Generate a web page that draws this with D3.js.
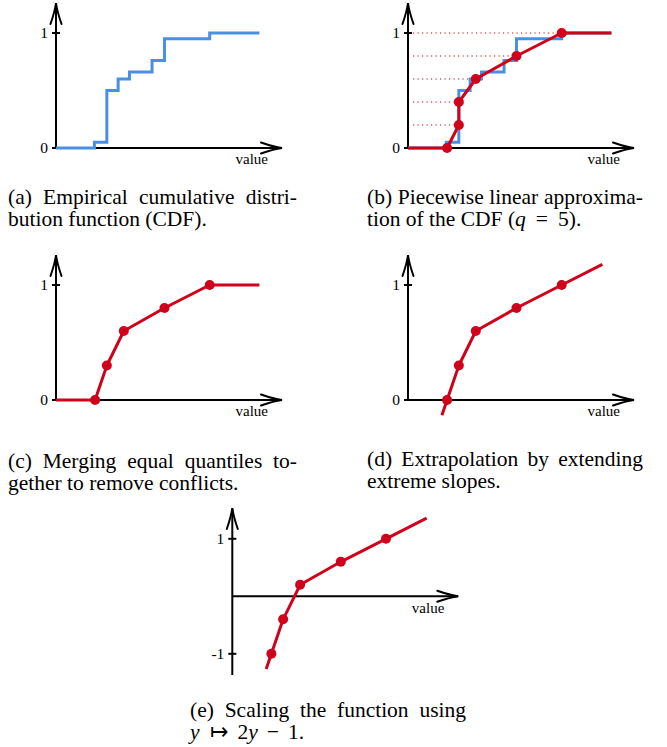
<!DOCTYPE html>
<html>
<head>
<meta charset="utf-8">
<script src="https://cdn.jsdelivr.net/npm/d3@7/dist/d3.min.js"></script>
<style>
  html, body { margin: 0; padding: 0; background: #fff; }
  svg { display: block; }
  text { font-family: "Liberation Serif", "Times New Roman", serif; fill: #000; }
</style>
</head>
<body>
<script>
// ---------------- DATA ----------------
// Empirical CDF (step function): x positions of steps and value after each step
const ecdfX = [0, 1.7, 2.25, 2.75, 3.25, 4.25, 4.8, 6.8, 9.0];
const ecdfY = [0, 0.05, 0.5, 0.6, 0.66, 0.76, 0.95, 1.0, 1.0];

// Piecewise linear approximation with q = 5 quantiles
const quantLevels = [0, 0.2, 0.4, 0.6, 0.8, 1.0];
const quantX      = [1.73, 2.25, 2.25, 3.0, 4.8, 6.8];

// After merging equal quantiles
const mergedX = [1.73, 2.25, 3.0, 4.8, 6.8];
const mergedY = [0, 0.3, 0.6, 0.8, 1.0];

// Flat tails (panels b, c) and extrapolation limits (panels d, e)
const tailStartX = 0;
const tailEndX = 9.0;
const extLowX = 1.5;
const extHighX = 8.6;

// Tick labels
const yTicksCDF = [0, 1];
const yTicksScaled = [-1, 1];
const xAxisLabel = "value";

// Captions (dx = extra math spacing)
const captionA = [[{t: "(a) Empirical cumulative distri-"}], [{t: "bution function (CDF)."}]];
const captionB = [[{t: "(b) Piecewise linear approxima-"}],
                  [{t: "tion of the CDF ("}, {t: "q", i: true}, {t: "=", dx: 10}, {t: "5).", dx: 10}]];
const captionC = [[{t: "(c) Merging equal quantiles to-"}], [{t: "gether to remove conflicts."}]];
const captionD = [[{t: "(d) Extrapolation by extending"}], [{t: "extreme slopes."}]];
const captionE = [[{t: "(e) Scaling the function using"}],
                  [{t: "y", i: true}, {t: "\u21A6", dx: 10}, {t: "2", dx: 10}, {t: "y", i: true},
                   {t: "\u2212", dx: 9}, {t: "1.", dx: 9}]];

// ---------------- DRAWING ----------------
const W = 667, H = 747;
const BLUE = "#4A90E2", RED = "#D0021B";
const svg = d3.select("body").append("svg").attr("width", W).attr("height", H);
svg.append("rect").attr("width", W).attr("height", H).attr("fill", "#fff");

const X_LEN = 226;      // px for x domain [0,10]
const Y_UNIT = 115;     // px per unit of CDF

function scales(ox, oy, yDomain) {
  const x = d3.scaleLinear().domain([0, 10]).range([ox, ox + X_LEN]);
  const y = d3.scaleLinear().domain(yDomain || [0, 1]).range(yDomain ? [oy + Y_UNIT / 2, oy - Y_UNIT / 2] : [oy, oy - Y_UNIT]);
  return {x, y};
}

function arrowUp(g, x, yTip) {
  g.append("path")
    .attr("d", `M${x - 5.5},${yTip + 21} Q${x - 1},${yTip + 8} ${x},${yTip} Q${x + 1},${yTip + 8} ${x + 5.5},${yTip + 21}`)
    .attr("fill", "none").attr("stroke", "#000").attr("stroke-width", 2).attr("stroke-linecap", "round");
}
function arrowRight(g, xTip, y) {
  g.append("path")
    .attr("d", `M${xTip - 21},${y - 5.5} Q${xTip - 8},${y - 1} ${xTip},${y} Q${xTip - 8},${y + 1} ${xTip - 21},${y + 5.5}`)
    .attr("fill", "none").attr("stroke", "#000").attr("stroke-width", 2).attr("stroke-linecap", "round");
}

function drawAxes(g, sc, ticks, yTop, yBottom, xAxisY, labelDy) {
  const x0 = sc.x(0);
  g.append("line").attr("x1", x0).attr("x2", x0).attr("y1", yBottom).attr("y2", yTop + 1)
    .attr("stroke", "#000").attr("stroke-width", 2);
  arrowUp(g, x0, yTop);
  g.append("line").attr("x1", x0).attr("x2", x0 + X_LEN - 1).attr("y1", xAxisY).attr("y2", xAxisY)
    .attr("stroke", "#000").attr("stroke-width", 2);
  arrowRight(g, x0 + X_LEN, xAxisY);
  ticks.forEach(t => {
    g.append("line").attr("x1", x0 - 4).attr("x2", x0 + 4).attr("y1", sc.y(t)).attr("y2", sc.y(t))
      .attr("stroke", "#000").attr("stroke-width", 2);
    g.append("text").attr("x", x0 - 8).attr("y", sc.y(t) + 5)
      .attr("text-anchor", "end").attr("font-size", 15.5).text(t);
  });
  g.append("text").attr("x", x0 + 212).attr("y", xAxisY + 16 + (labelDy || 0))
    .attr("text-anchor", "end").attr("font-size", 15).text(xAxisLabel);
}

const lineGen = (sc) => d3.line().x(d => sc.x(d[0])).y(d => sc.y(d[1]));

function drawRed(g, sc, pts, dots) {
  g.append("path").attr("d", lineGen(sc)(pts)).attr("fill", "none")
    .attr("stroke", RED).attr("stroke-width", 3).attr("stroke-linejoin", "round");
  g.selectAll(null).data(dots).enter().append("circle")
    .attr("cx", d => sc.x(d[0])).attr("cy", d => sc.y(d[1])).attr("r", 5).attr("fill", RED);
}

function drawBlue(g, sc) {
  const pts = ecdfX.map((x, i) => [x, ecdfY[i]]);
  g.append("path").attr("d", d3.line().curve(d3.curveStepAfter).x(d => sc.x(d[0])).y(d => sc.y(d[1]))(pts))
    .attr("fill", "none").attr("stroke", BLUE).attr("stroke-width", 3);
}

const mergedPts = mergedX.map((x, i) => [x, mergedY[i]]);
function extrapolated() {
  const n = mergedPts.length;
  const s0 = (mergedPts[1][1] - mergedPts[0][1]) / (mergedPts[1][0] - mergedPts[0][0]);
  const s1 = (mergedPts[n - 1][1] - mergedPts[n - 2][1]) / (mergedPts[n - 1][0] - mergedPts[n - 2][0]);
  const lo = [extLowX, mergedPts[0][1] + s0 * (extLowX - mergedPts[0][0])];
  const hi = [extHighX, mergedPts[n - 1][1] + s1 * (extHighX - mergedPts[n - 1][0])];
  return [lo, ...mergedPts, hi];
}

// ---- Panel (a)
{
  const g = svg.append("g");
  const sc = scales(56, 148);
  drawAxes(g, sc, yTicksCDF, 3, 149, 148);
  drawBlue(g, sc);
}
// ---- Panel (b)
{
  const g = svg.append("g");
  const sc = scales(408, 148);
  drawAxes(g, sc, yTicksCDF, 3, 149, 148);
  const qp = quantX.map((x, i) => [x, quantLevels[i]]);
  qp.filter(d => d[1] > 0).forEach(d => {
    g.append("line").attr("x1", sc.x(0) + 5).attr("x2", sc.x(d[0])).attr("y1", sc.y(d[1])).attr("y2", sc.y(d[1]))
      .attr("stroke", RED).attr("stroke-width", 1.2).attr("stroke-dasharray", "1.2,3.3");
  });
  drawBlue(g, sc);
  drawRed(g, sc, [[tailStartX, 0], ...qp, [tailEndX, 1]], qp);
}
// ---- Panel (c)
{
  const g = svg.append("g");
  const sc = scales(56, 400);
  drawAxes(g, sc, yTicksCDF, 255, 401, 400);
  drawRed(g, sc, [[tailStartX, 0], ...mergedPts, [tailEndX, 1]], mergedPts);
}
// ---- Panel (d)
{
  const g = svg.append("g");
  const sc = scales(408, 400);
  drawAxes(g, sc, yTicksCDF, 255, 401, 400);
  drawRed(g, sc, extrapolated(), mergedPts);
}
// ---- Panel (e)
{
  const g = svg.append("g");
  const sc = scales(232.3, 596.3, [-1, 1]);
  drawAxes(g, sc, yTicksScaled, 508, 675, sc.y(0), 1);
  const scaled = extrapolated().map(d => [d[0], 2 * d[1] - 1]);
  const scaledDots = mergedPts.map(d => [d[0], 2 * d[1] - 1]);
  drawRed(g, sc, scaled, scaledDots);
}

// ---- Captions
function caption(lines, x, y0, width) {
  lines.forEach((segs, li) => {
    const t = svg.append("text").attr("x", x).attr("y", y0 + li * 22).attr("font-size", 21.5);
    segs.forEach(s => {
      const ts = t.append("tspan").text(s.t);
      if (s.i) ts.attr("font-style", "italic");
      if (s.dx) ts.attr("dx", s.dx);
    });
    if (li === 0 && width) {
      const natural = t.node().getComputedTextLength();
      const spaces = segs.map(s => s.t).join("").split(" ").length - 1;
      if (spaces > 0) t.attr("word-spacing", Math.max(0, (width - natural) / spaces));
    }
  });
}
caption(captionA, 8, 204, 289);
caption(captionB, 367, 204, 276);
caption(captionC, 8, 468, 289);
caption(captionD, 367, 466, 276);
caption(captionE, 190, 717, 276);
</script>
</body>
</html>
